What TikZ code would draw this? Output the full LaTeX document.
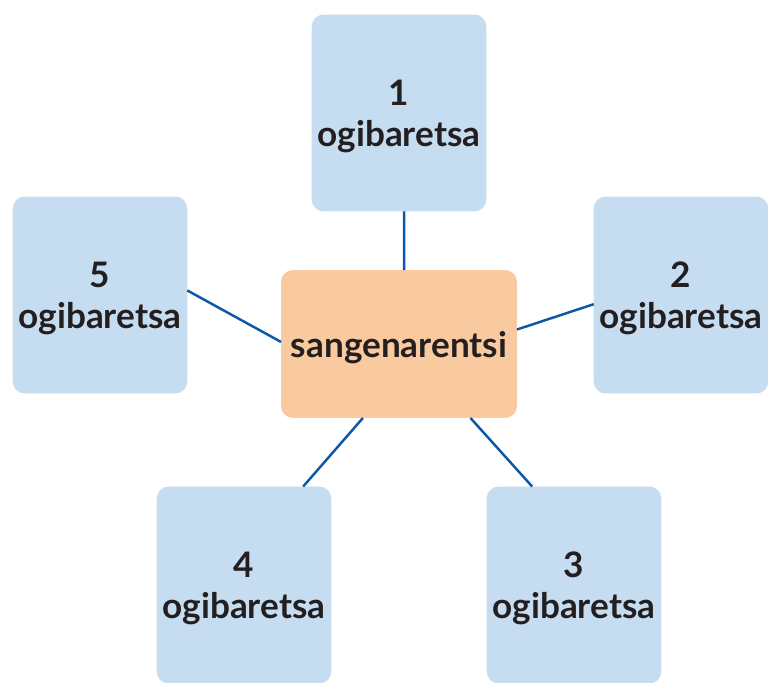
\documentclass[tikz,border=0pt]{standalone}
\usepackage{fontspec}
\setmainfont{Lato}
\usetikzlibrary{positioning}
\definecolor{boxblue}{HTML}{C6DCF1}
\definecolor{boxorange}{HTML}{F9CAA0}
\definecolor{linkblue}{HTML}{0B58A8}
\definecolor{inkdark}{HTML}{231F20}

\begin{document}
\begin{tikzpicture}[x=0.02cm, y=-0.02cm,
    semithick,
    answer/.style={rectangle, rounded corners=0.24cm, fill=boxblue,
      minimum width=3.46cm, minimum height=3.94cm, outer sep=0pt,
      text depth=0pt,
      text=inkdark, align=center, font=\fontsize{20}{23.5}\selectfont\bfseries},
    topic/.style={rectangle, rounded corners=0.24cm, fill=boxorange,
      minimum width=4.72cm, minimum height=2.96cm, outer sep=0pt,
      text depth=0pt,
      text=inkdark, font=\fontsize{20}{23}\selectfont\bfseries},
    link/.style={draw=linkblue, line width=1.4pt}
    ]
\useasboundingbox (0,0) rectangle (768,683);

\node[topic] (C) at (399,344) {sangenarentsi};
\node[answer] (A1) at (399,113) {1\\ogibaretsa};
\node[answer] (A2) at (681,295) {2\\ogibaretsa};
\node[answer] (A3) at (574,585) {3\\ogibaretsa};
\node[answer] (A4) at (244,585) {4\\ogibaretsa};
\node[answer] (A5) at (100,295) {5\\ogibaretsa};

\draw[link] (C.86) -- (A1.273);
\draw[link] (C.7) -- (A2.186);
\draw[link] (C.314) -- (A3.113);
\draw[link] (C.244) -- (A4.59);
\draw[link] (C.179) -- (A5.3);
\end{tikzpicture}
\end{document}
